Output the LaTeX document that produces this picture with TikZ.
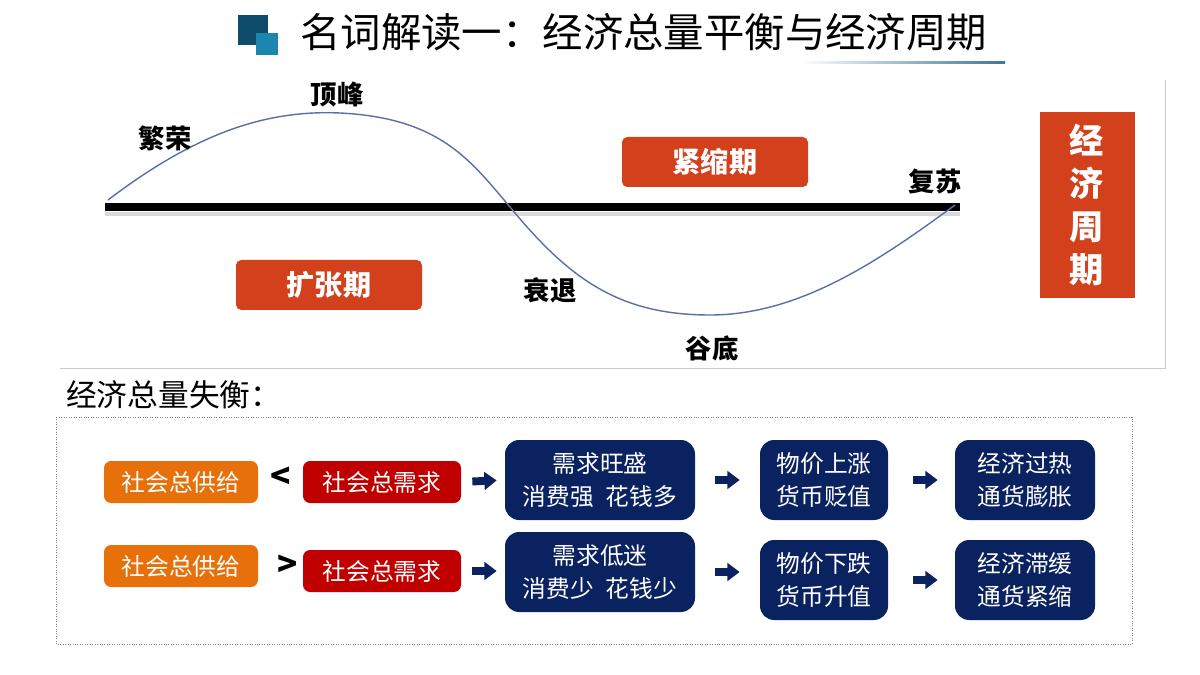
\documentclass[tikz,border=0pt]{standalone}
\usepackage{fontspec}
\setmainfont{Noto Sans CJK SC}
\usetikzlibrary{arrows.meta,positioning,calc}
\definecolor{cyred}{HTML}{D2401C}
\definecolor{boxorange}{HTML}{E8700A}
\definecolor{boxred}{HTML}{C00000}
\definecolor{boxnavy}{HTML}{0A2260}
\definecolor{icondark}{HTML}{0F4C6B}
\definecolor{iconlight}{HTML}{1B86B0}
\definecolor{wavecol}{HTML}{5A6EAA}
\definecolor{rulecol}{HTML}{3C7896}
\tikzstyle{phasebox}=[fill=cyred,rounded corners=3pt,text=white,font=\bfseries\fontsize{16}{16}\selectfont,minimum width=186*0.02cm,minimum height=50*0.02cm]
\tikzstyle{wavelabel}=[font=\fontsize{15}{15}\selectfont\bfseries]
\tikzstyle{supbox}=[fill=boxorange,rounded corners=4pt,text=white,font=\fontsize{13.5}{13.5}\selectfont,minimum width=154*0.02cm,minimum height=42*0.02cm]
\tikzstyle{dembox}=[fill=boxred,rounded corners=4pt,text=white,font=\fontsize{13.5}{13.5}\selectfont,minimum width=158*0.02cm,minimum height=42*0.02cm]
\tikzstyle{effbox}=[fill=boxnavy,rounded corners=8pt,text=white,font=\fontsize{13.5}{18.5}\selectfont,align=center,minimum height=80*0.02cm,inner sep=2pt]
\tikzstyle{flow}=[boxnavy,line width=4.5pt,-{Triangle[length=7pt,width=10pt]},shorten <=11*0.02cm,shorten >=8*0.02cm]
\begin{document}
\begin{tikzpicture}[x=0.02cm,y=-0.02cm]

      % frame of the picture
      \useasboundingbox (0,0) rectangle (1200,675);

      % title
      \fill[icondark] (238,15) rectangle (268,45);
      \fill[iconlight] (256,33) rectangle (278,55);
      \node[anchor=west,font=\fontsize{23}{23}\selectfont] (title) at (294,32) {名词解读一：经济总量平衡与经济周期};
      \shade[left color=white,right color=rulecol] (800,62) rectangle (1005,64);

      % upper panel
      \draw[gray!40] (60,368) -- (1165,368) -- (1165,80);
      \draw[gray!30,line width=2pt] (105,214) -- (960,214);
      \draw[line width=5pt] (105,207) -- (960,207);
      \draw[wavecol,thick] (108,200)
         .. controls (200,130) and (270,110) .. (340,113)
         .. controls (440,118) and (470,160) .. (510,207)
         .. controls (570,280) and (620,315) .. (710,315)
         .. controls (800,315) and (880,260) .. (955,205);
      \node[wavelabel] (boom) at (165,138) {繁荣};
      \node[wavelabel] (peak) at (337,95) {顶峰};
      \node[wavelabel] (recov) at (935,182) {复苏};
      \node[wavelabel] (reces) at (550,290) {衰退};
      \node[wavelabel] (trough) at (712,348) {谷底};
      \node[phasebox] (shrink) at (715,162) {紧缩期};
      \node[phasebox] (expand) at (329,285) {扩张期};
      \node[fill=cyred,text=white,font=\bfseries\fontsize{19.5}{24.5}\selectfont,align=center,minimum width=95*0.02cm,minimum height=186*0.02cm] (cycle) at (1087,205) {经\\济\\周\\期};

      % lower panel
      \node[anchor=west,font=\fontsize{17.5}{17.5}\selectfont] (imbal) at (60,395) {经济总量失衡：};
      \draw[gray,densely dotted] (56,417) rectangle (1132,644);

      % first row
      \node[supbox] (s1) at (181,482) {社会总供给};
      \node[dembox] (d1) at (382,482) {社会总需求};
      \node[font=\bfseries\fontsize{19}{19}\selectfont] (lt) at (281,478) {<};
      \node[effbox,minimum width=190*0.02cm] (e1) at (600,480) {需求旺盛\\消费强\enspace 花钱多};
      \node[effbox,minimum width=128*0.02cm] (p1) at (824,480) {物价上涨\\货币贬值};
      \node[effbox,minimum width=140*0.02cm] (r1) at (1025,480) {经济过热\\通货膨胀};

      % second row
      \node[supbox] (s2) at (181,566) {社会总供给};
      \node[dembox] (d2) at (382,571) {社会总需求};
      \node[font=\bfseries\fontsize{19}{19}\selectfont] (gt) at (288,566) {>};
      \node[effbox,minimum width=190*0.02cm] (e2) at (600,572) {需求低迷\\消费少\enspace 花钱少};
      \node[effbox,minimum width=128*0.02cm] (p2) at (824,580) {物价下跌\\货币升值};
      \node[effbox,minimum width=140*0.02cm] (r2) at (1025,580) {经济滞缓\\通货紧缩};

      % arrows
      \draw[flow] (d1.east) -- (e1.west);
      \draw[flow,shorten <=20*0.02cm,shorten >=20*0.02cm] (e1.east) -- (p1.west);
      \draw[flow,shorten <=25*0.02cm,shorten >=17*0.02cm] (p1.east) -- (r1.west);
      \draw[flow] (d2.east) -- (e2.west |- d2.east);
      \draw[flow,shorten <=20*0.02cm,shorten >=20*0.02cm] (e2.east) -- (p2.west |- e2.east);
      \draw[flow,shorten <=25*0.02cm,shorten >=17*0.02cm] (p2.east) -- (r2.west);

\end{tikzpicture}
\end{document}
